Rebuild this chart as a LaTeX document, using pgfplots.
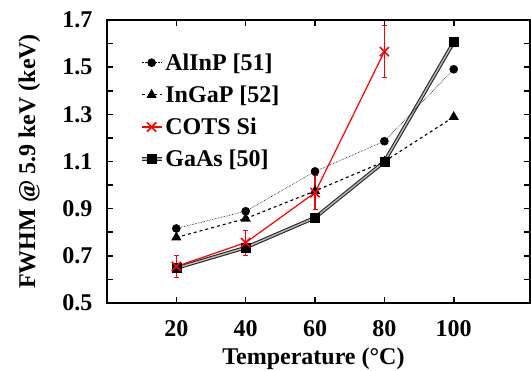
\documentclass[border=0pt]{standalone}
\usepackage{fontspec}
\setmainfont{Liberation Serif}
\newfontfamily\tnr{Liberation Serif}
\usepackage{pgfplots}
\pgfplotsset{compat=1.18}
\newcommand{\bigbf}{\tnr\fontsize{24}{28}\selectfont\bfseries}
\begin{document}
\begin{tikzpicture}
\path[use as bounding box] (-107pt,-68pt) rectangle (424pt,303pt);
\begin{axis}[
  scale only axis, width=423pt, height=283pt,
  xmin=0, xmax=122, ymin=0.5, ymax=1.7,
  axis line style={line width=1.6pt},
  xtick={20,40,60,80,100}, xticklabels={20,40,60,80,100},
  ytick={0.5,0.7,0.9,1.1,1.3,1.5,1.7},
  yticklabels={0.5,0.7,0.9,1.1,1.3,1.5,1.7},
  minor ytick={0.6,0.8,1.0,1.2,1.4,1.6},
  tick align=inside, major tick length=6pt, minor tick length=6pt,
  every tick/.style={black, line width=1.6pt},
  minor tick style={black, line width=1.6pt},
  /pgf/number format/assume math mode=true,
  tick label style={font=\bigbf},
  xticklabel shift=14pt, yticklabel shift=11pt,
  xlabel={Temperature (°C)}, ylabel={FWHM @ 5.9 keV (keV)},
  label style={font=\bigbf},
  xlabel style={at={(axis description cs:0.488,-0.219)}, anchor=base},
  ylabel style={at={(axis description cs:-0.170,0.5)}, anchor=base},
  legend style={draw=none, fill=none, at={(axis description cs:0.07,0.896)}, anchor=north west, font=\bigbf, row sep=10pt, nodes={font=\bigbf}},
  legend cell align=left,
  legend image code/.code={\draw[mark repeat=2,mark phase=2] plot coordinates {(0pt,0pt) (10pt,0pt) (20pt,0pt)};},
]
% GaAs (double line)
\addplot[black!85, line width=3.6pt, forget plot] coordinates {(20,0.648)(40,0.735)(60,0.862)(80,1.099)(100,1.606)};
\addplot[gray!55, line width=1.4pt, mark=square*, mark options={black, fill=black, line width=0.5pt, mark size=4.5pt}, forget plot] coordinates {(20,0.648)(40,0.735)(60,0.862)(80,1.099)(100,1.606)};
% AlInP
\addplot[black, densely dotted, line width=0.6pt, mark=*, mark options={solid, mark size=4pt}, forget plot] coordinates {(20,0.816)(40,0.889)(60,1.058)(80,1.186)(100,1.491)};
% InGaP
\addplot[black, dashed, line width=1.1pt, mark=triangle*, mark options={solid, mark size=4.8pt}, forget plot] coordinates {(20,0.778)(40,0.858)(60,0.975)(80,1.100)(100,1.289)};
% COTS Si
\addplot[red, line width=1.2pt, mark=x, mark options={solid, mark size=6.5pt, line width=1.6pt}, forget plot,
  error bars/.cd, y dir=both, y explicit, error mark=-, error bar style={red, line width=1.6pt}, error mark options={red, mark size=2.5pt, line width=1.2pt, rotate=90}]
  coordinates {(20,0.655) +- (0,0.048) (40,0.756) +- (0,0.053) (60,0.968) +- (0,0.072) (80,1.566) +- (0,0.11)};
\addlegendimage{black, densely dotted, line width=0.6pt, mark=*, mark options={solid, mark size=4pt}}
\addlegendentry{\bigbf AlInP [51]}
\addlegendimage{black, dashed, line width=1.1pt, mark=triangle*, mark options={solid, mark size=4.8pt}}
\addlegendentry{\bigbf InGaP [52]}
\addlegendimage{red, line width=1.2pt, mark=x, mark options={solid, mark size=6.5pt, line width=1.6pt}}
\addlegendentry{\bigbf COTS Si}
\addlegendimage{legend image code/.code={
  \draw[black!85, line width=3.6pt] (0pt,0pt) -- (20pt,0pt);
  \draw[gray!55, line width=1.4pt] (0pt,0pt) -- (20pt,0pt);
  \fill[black] (5.5pt,-4.5pt) rectangle (14.5pt,4.5pt);}}
\addlegendentry{\bigbf GaAs [50]}
\end{axis}
\end{tikzpicture}
\end{document}
